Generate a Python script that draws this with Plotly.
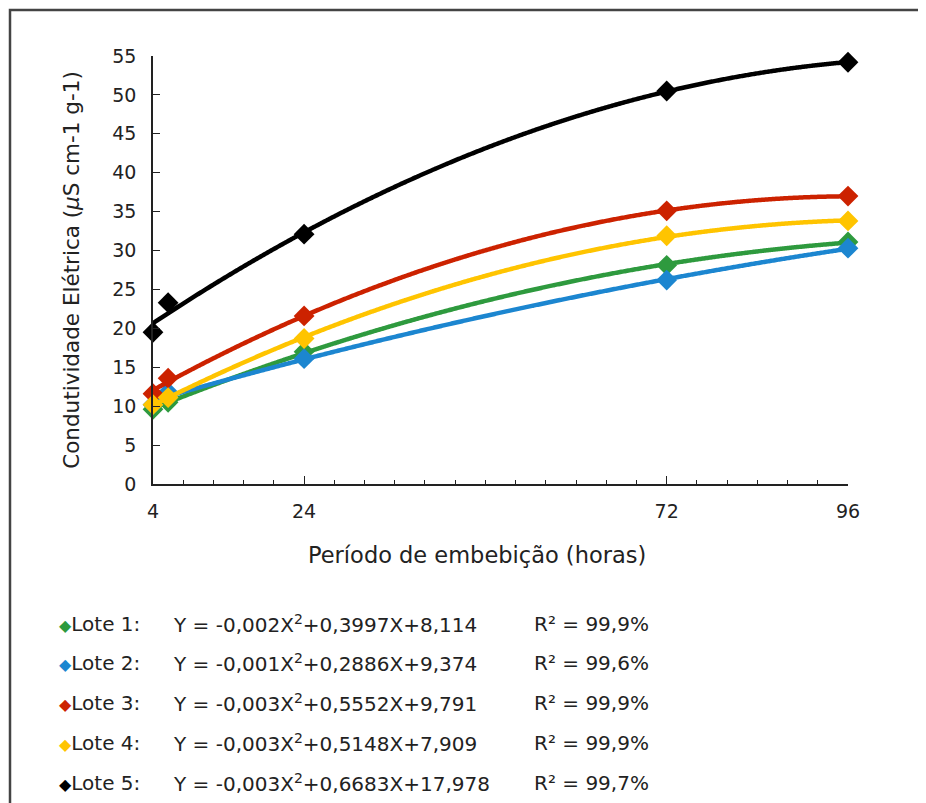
import numpy as np
import plotly.graph_objects as go

# ---- data ----
horas = [4, 6, 24, 72, 96]
lote1 = [9.6, 10.5, 17.0, 28.1, 31.1]
lote2 = [10.2, 11.8, 16.1, 26.2, 30.3]
lote3 = [11.6, 13.6, 21.6, 35.1, 37.0]
lote4 = [10.2, 11.1, 18.7, 31.9, 33.8]
lote5 = [19.5, 23.3, 32.1, 50.5, 54.2]

nomes = ["Lote 1:", "Lote 2:", "Lote 3:", "Lote 4:", "Lote 5:"]
equacoes = [
    "Y = -0,002X<sup>2</sup>+0,3997X+8,114",
    "Y = -0,001X<sup>2</sup>+0,2886X+9,374",
    "Y = -0,003X<sup>2</sup>+0,5552X+9,791",
    "Y = -0,003X<sup>2</sup>+0,5148X+7,909",
    "Y = -0,003X<sup>2</sup>+0,6683X+17,978",
]
r2 = ["R² = 99,9%", "R² = 99,6%", "R² = 99,9%", "R² = 99,9%", "R² = 99,7%"]
cores = ["#2e9a3e", "#1c86d0", "#cc2200", "#ffc400", "#000000"]
x_ticks = [4, 24, 72, 96]
y_ticks = list(range(0, 56, 5))
x_title = "Período de embebição (horas)"
y_title = "Condutividade Elétrica (<i>µ</i>S cm-1 g-1)"

series = [lote1, lote2, lote3, lote4, lote5]
FONT = "DejaVu Sans, Arial, sans-serif"
TXT = "#222"

fig = go.Figure()
xs = np.linspace(min(horas), max(horas), 300)
for nome, ys, cor in zip(nomes, series, cores):
    coef = np.polyfit(horas, ys, 2)
    fig.add_trace(go.Scatter(x=xs, y=np.polyval(coef, xs), mode="lines",
                             line=dict(color=cor, width=4.5, shape="spline"),
                             showlegend=False, cliponaxis=False, hoverinfo="skip"))
    fig.add_trace(go.Scatter(x=horas, y=ys, mode="markers", name=nome,
                             marker=dict(symbol="diamond", size=16, color=cor),
                             showlegend=False, cliponaxis=False))

fig.update_xaxes(range=[4, 96], tickmode="array", tickvals=x_ticks,
                 ticktext=[str(v) for v in x_ticks], ticks="inside", ticklen=8,
                 tickwidth=1, tickcolor=TXT, showline=True, linecolor=TXT,
                 linewidth=1.5, showgrid=False, zeroline=False,
                 ticklabelstandoff=9,
                 tickfont=dict(size=19, color=TXT, family=FONT),
                 minor=dict(dtick=4, tick0=4, ticks="inside", ticklen=4,
                            tickcolor=TXT, showgrid=False))
fig.update_yaxes(range=[0, 55], tickmode="array", tickvals=y_ticks,
                 ticks="inside", ticklen=7, tickwidth=1, tickcolor=TXT,
                 showline=True, linecolor=TXT, linewidth=1.5, showgrid=False,
                 zeroline=False, ticklabelstandoff=11,
                 tickfont=dict(size=19, color=TXT, family=FONT),
                 title=dict(text=y_title, standoff=27,
                            font=dict(size=21.5, color=TXT, family=FONT)))

# page pixel -> paper coordinate helpers (page has an 8px body offset)
OFF = 8
plot_top, plot_bot = 56 - OFF, 484 - OFF
left, right = 153 - OFF, 848 - OFF
W, H = 926 - OFF, 803 - OFF
def py(pix):
    return (plot_bot - (pix - OFF)) / (plot_bot - plot_top)
def px(pix):
    return ((pix - OFF) - left) / (right - left)

# x-axis title (placed slightly left of centre, as in the reference)
fig.add_annotation(x=px(477), y=py(555), xref="paper", yref="paper",
                   xanchor="center", yanchor="middle", showarrow=False,
                   text=x_title, font=dict(size=22.5, color=TXT, family=FONT))

row_y = [624, 663, 703, 743, 783]
for nome, eq, r, cor, yy in zip(nomes, equacoes, r2, cores, row_y):
    fig.add_annotation(x=px(57), y=py(yy), xref="paper", yref="paper",
                       xanchor="left", yanchor="middle", showarrow=False,
                       text=f"<span style='color:{cor};font-size:16px'>◆</span>{nome}",
                       font=dict(size=20, color=TXT, family=FONT))
    fig.add_annotation(x=px(171), y=py(yy), xref="paper", yref="paper",
                       xanchor="left", yanchor="middle", showarrow=False,
                       text=eq, font=dict(size=20, color=TXT, family=FONT))
    fig.add_annotation(x=px(532), y=py(yy), xref="paper", yref="paper",
                       xanchor="left", yanchor="middle", showarrow=False,
                       text=r, font=dict(size=20, color=TXT, family=FONT))

# outer frame (cropped at right and bottom)
fig.add_shape(type="rect", xref="paper", yref="paper",
              x0=px(10), x1=px(960), y0=py(840), y1=py(10),
              line=dict(color="#444", width=2.5), layer="below")

fig.update_layout(width=W, height=H,
                  margin=dict(l=left, r=W - right, t=plot_top, b=H - plot_bot),
                  paper_bgcolor="white", plot_bgcolor="white",
                  font=dict(family=FONT))
fig.write_html("out.html")
